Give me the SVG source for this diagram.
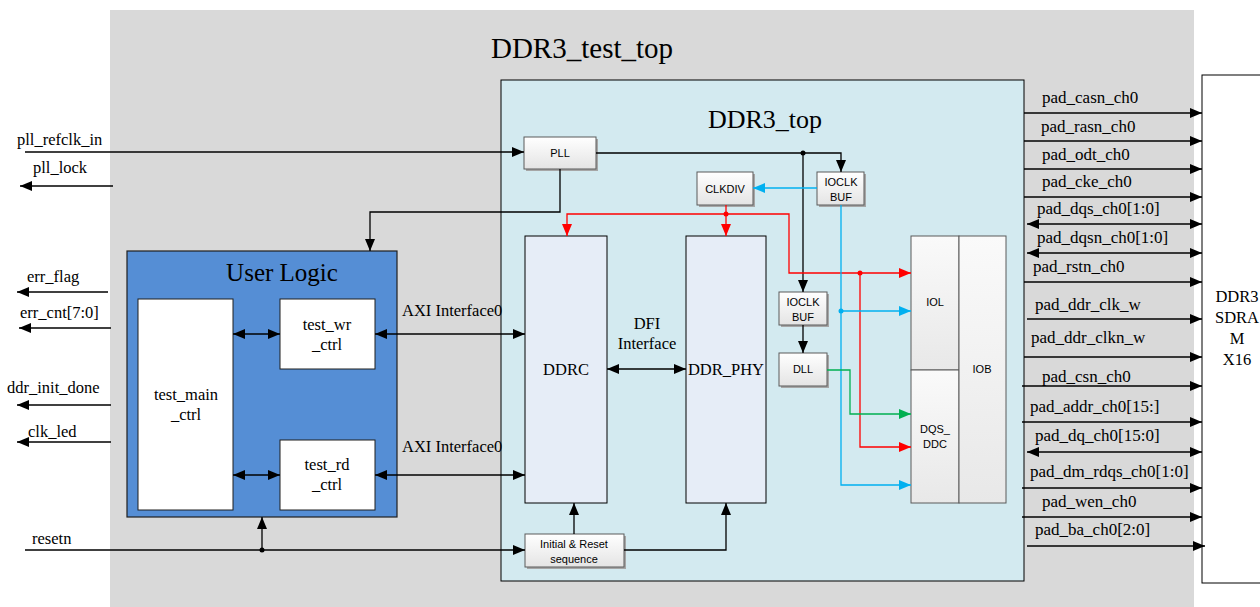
<svg xmlns="http://www.w3.org/2000/svg" width="1260" height="607" viewBox="0 0 1260 607">
<style>
.serif{font-family:"Liberation Serif","Times New Roman",serif;fill:#000}
.sans{font-family:"Liberation Sans",Arial,sans-serif;fill:#000;font-size:11px;text-anchor:middle}
.pad{font-size:17px}
.sig{font-size:16.5px}
.ln{fill:none;stroke:#000;stroke-width:1.3}
.red{fill:none;stroke:#ff0000;stroke-width:1.3}
.blue{fill:none;stroke:#00b0f0;stroke-width:1.3}
.green{fill:none;stroke:#00b050;stroke-width:1.3}
.box{fill:url(#gbox);stroke:#5a5a5a;stroke-width:1}
.shadow{fill:#a6a6a6}
.mid{text-anchor:middle}
</style>
<defs>
<linearGradient id="gbox" x1="0" y1="0" x2="0" y2="1">
<stop offset="0" stop-color="#ffffff"/><stop offset="1" stop-color="#e4e4e4"/>
</linearGradient>
<linearGradient id="gio" x1="0" y1="0" x2="0" y2="1">
<stop offset="0" stop-color="#fafafa"/><stop offset="1" stop-color="#e8e8e8"/>
</linearGradient>
<marker id="a" markerUnits="userSpaceOnUse" markerWidth="12" markerHeight="10" refX="12" refY="5" orient="auto-start-reverse" viewBox="0 0 12 10"><path d="M0,0 L12,5 L0,10 z" fill="#000"/></marker>
<marker id="ar" markerUnits="userSpaceOnUse" markerWidth="12" markerHeight="10" refX="12" refY="5" orient="auto-start-reverse" viewBox="0 0 12 10"><path d="M0,0 L12,5 L0,10 z" fill="#ff0000"/></marker>
<marker id="ab" markerUnits="userSpaceOnUse" markerWidth="12" markerHeight="10" refX="12" refY="5" orient="auto-start-reverse" viewBox="0 0 12 10"><path d="M0,0 L12,5 L0,10 z" fill="#00b0f0"/></marker>
<marker id="ag" markerUnits="userSpaceOnUse" markerWidth="12" markerHeight="10" refX="12" refY="5" orient="auto-start-reverse" viewBox="0 0 12 10"><path d="M0,0 L12,5 L0,10 z" fill="#00b050"/></marker>
</defs>
<rect width="1260" height="607" fill="#ffffff"/>
<g id="DDR3_test_top">
<rect x="110" y="10" width="1084" height="600" fill="#d9d9d9"/>
<text class="serif mid" x="582" y="58" font-size="29">DDR3_test_top</text>
</g>
<g id="DDR3_top">
<rect x="501" y="80" width="523" height="501" fill="#d3eaf0" stroke="#000" stroke-width="1"/>
<text class="serif mid" x="765" y="128" font-size="26">DDR3_top</text>
</g>
<g id="SDRAM">
<rect x="1202" y="75" width="70" height="508" fill="#ffffff" stroke="#000" stroke-width="1"/>
<text class="serif mid sig" x="1237" y="302">DDR3</text>
<text class="serif mid sig" x="1237" y="323">SDRA</text>
<text class="serif mid sig" x="1237" y="344">M</text>
<text class="serif mid sig" x="1237" y="365">X16</text>
</g>
<g id="UserLogic">
<rect x="127" y="251" width="270" height="266" fill="#558ed5" stroke="#1f1f1f" stroke-width="1.2"/>
<text class="serif mid" x="282" y="281" font-size="25">User Logic</text>
</g>
<g id="test_main_ctrl">
<rect x="138" y="299" width="95" height="211" fill="#fff" stroke="#1f1f1f" stroke-width="1"/>
<text class="serif mid sig" x="186" y="400">test_main</text>
<text class="serif mid sig" x="186" y="420">_ctrl</text>
</g>
<g id="test_wr_ctrl">
<rect x="280" y="299" width="95" height="70" fill="#fff" stroke="#1f1f1f" stroke-width="1"/>
<text class="serif mid sig" x="327" y="330">test_wr</text>
<text class="serif mid sig" x="327" y="350">_ctrl</text>
</g>
<g id="test_rd_ctrl">
<rect x="280" y="440" width="95" height="70" fill="#fff" stroke="#1f1f1f" stroke-width="1"/>
<text class="serif mid sig" x="327" y="470">test_rd</text>
<text class="serif mid sig" x="327" y="490">_ctrl</text>
</g>
<g id="DDRC">
<rect x="525" y="236" width="82" height="267" fill="#e6edf7" stroke="#000" stroke-width="1"/>
<text class="serif mid sig" x="566" y="375">DDRC</text>
</g>
<g id="DDR_PHY">
<rect x="686" y="236" width="80" height="267" fill="#e6edf7" stroke="#000" stroke-width="1"/>
<text class="serif mid sig" x="726" y="375">DDR_PHY</text>
</g>
<g id="PLL">
<rect class="shadow" x="526" y="139" width="72" height="32"/>
<rect class="box" x="524" y="137" width="72" height="32"/>
<text class="sans" x="560" y="157">PLL</text>
</g>
<g id="CLKDIV">
<rect class="shadow" x="699" y="174" width="56" height="33"/>
<rect class="box" x="697" y="172" width="56" height="33"/>
<text class="sans" x="725" y="193">CLKDIV</text>
</g>
<g id="IOCLK_BUF_1">
<rect class="shadow" x="819" y="174" width="47" height="33"/>
<rect class="box" x="817" y="172" width="47" height="33"/>
<text class="sans" x="841" y="186">IOCLK</text>
<text class="sans" x="841" y="201">BUF</text>
</g>
<g id="IOCLK_BUF_2">
<rect class="shadow" x="781" y="294" width="48" height="33"/>
<rect class="box" x="779" y="292" width="48" height="33"/>
<text class="sans" x="803" y="306">IOCLK</text>
<text class="sans" x="803" y="321">BUF</text>
</g>
<g id="DLL">
<rect class="shadow" x="781" y="355" width="48" height="33"/>
<rect class="box" x="779" y="353" width="48" height="33"/>
<text class="sans" x="803" y="373">DLL</text>
</g>
<g id="IOL">
<rect x="911" y="236" width="48" height="134" fill="url(#gio)" stroke="#5a5a5a" stroke-width="1"/>
<text class="sans" x="935" y="306" font-size="11.5">IOL</text>
</g>
<g id="DQS_DDC">
<rect x="911" y="370" width="48" height="133" fill="url(#gio)" stroke="#5a5a5a" stroke-width="1"/>
<text class="sans" x="935" y="433" font-size="11.5">DQS_</text>
<text class="sans" x="935" y="448" font-size="11.5">DDC</text>
</g>
<g id="IOB">
<rect x="959" y="236" width="47" height="267" fill="url(#gio)" stroke="#5a5a5a" stroke-width="1"/>
<text class="sans" x="982" y="373" font-size="11.5">IOB</text>
</g>
<g id="InitReset">
<rect class="shadow" x="527" y="536" width="99" height="33"/>
<rect class="box" x="525" y="534" width="99" height="33"/>
<text class="sans" x="574" y="548" font-size="12">Initial &amp; Reset</text>
<text class="sans" x="574" y="563" font-size="12">sequence</text>
</g>
<g id="labels">
<text class="serif sig" x="17" y="145">pll_refclk_in</text>
<text class="serif sig" x="33" y="173">pll_lock</text>
<text class="serif sig" x="27" y="282">err_flag</text>
<text class="serif sig" x="20" y="318">err_cnt[7:0]</text>
<text class="serif sig" x="7" y="393">ddr_init_done</text>
<text class="serif sig" x="28" y="437">clk_led</text>
<text class="serif sig" x="32" y="544">resetn</text>
<text class="serif sig" x="402" y="316">AXI Interface0</text>
<text class="serif sig" x="402" y="452">AXI Interface0</text>
<text class="serif mid sig" x="647" y="329">DFI</text>
<text class="serif mid sig" x="647" y="349">Interface</text>
<text class="serif pad" x="1042" y="103">pad_casn_ch0</text>
<text class="serif pad" x="1041" y="132">pad_rasn_ch0</text>
<text class="serif pad" x="1042" y="160">pad_odt_ch0</text>
<text class="serif pad" x="1042" y="187">pad_cke_ch0</text>
<text class="serif pad" x="1037" y="214">pad_dqs_ch0[1:0]</text>
<text class="serif pad" x="1037" y="243">pad_dqsn_ch0[1:0]</text>
<text class="serif pad" x="1033" y="272">pad_rstn_ch0</text>
<text class="serif pad" x="1035" y="310">pad_ddr_clk_w</text>
<text class="serif pad" x="1031" y="343">pad_ddr_clkn_w</text>
<text class="serif pad" x="1042" y="382">pad_csn_ch0</text>
<text class="serif pad" x="1030" y="412">pad_addr_ch0[15:]</text>
<text class="serif pad" x="1035" y="441">pad_dq_ch0[15:0]</text>
<text class="serif pad" x="1030" y="477">pad_dm_rdqs_ch0[1:0]</text>
<text class="serif pad" x="1042" y="507">pad_wen_ch0</text>
<text class="serif pad" x="1035" y="535">pad_ba_ch0[2:0]</text>
</g>
<g id="connectors">
<path class="ln" d="M25,152 H524" marker-end="url(#a)"/>
<path class="ln" d="M113,186 H20" marker-end="url(#a)"/>
<path class="ln" d="M108,292 H17" marker-end="url(#a)"/>
<path class="ln" d="M111,328 H19" marker-end="url(#a)"/>
<path class="ln" d="M111,405 H17" marker-end="url(#a)"/>
<path class="ln" d="M111,442 H17" marker-end="url(#a)"/>
<path class="ln" d="M25,550 H525" marker-end="url(#a)"/>
<path class="ln" d="M262,550 V517" marker-end="url(#a)"/>
<circle cx="262" cy="550" r="2.5" fill="#000"/>
<path class="ln" d="M560,169 V212 H370 V251" marker-end="url(#a)"/>
<path class="ln" d="M596,153 H841 V172" marker-end="url(#a)"/>
<path class="ln" d="M803,153 V292" marker-end="url(#a)"/>
<circle cx="803" cy="153" r="2.5" fill="#000"/>
<path class="ln" d="M803,325 V353" marker-end="url(#a)"/>
<path class="ln" d="M233,334 H280" marker-start="url(#a)" marker-end="url(#a)"/>
<path class="ln" d="M233,475 H280" marker-start="url(#a)" marker-end="url(#a)"/>
<path class="ln" d="M375,334 H525" marker-start="url(#a)" marker-end="url(#a)"/>
<path class="ln" d="M375,475 H525" marker-start="url(#a)" marker-end="url(#a)"/>
<path class="ln" d="M607,369 H686" marker-start="url(#a)" marker-end="url(#a)"/>
<path class="ln" d="M574,534 V503" marker-end="url(#a)"/>
<path class="ln" d="M624,550 H726 V503" marker-end="url(#a)"/>
<path class="red" d="M726,205 V236" marker-end="url(#ar)"/>
<path class="red" d="M726,214 H567 V236" marker-end="url(#ar)"/>
<path class="red" d="M726,214 H789 V273 H911" marker-end="url(#ar)"/>
<path class="red" d="M860,273 V447 H911" marker-end="url(#ar)"/>
<circle cx="726" cy="214" r="2.5" fill="#ff0000"/>
<circle cx="860" cy="273" r="2.5" fill="#ff0000"/>
<path class="blue" d="M817,188 H753" marker-end="url(#ab)"/>
<path class="blue" d="M841,205 V485 H911" marker-end="url(#ab)"/>
<path class="blue" d="M841,311 H911" marker-end="url(#ab)"/>
<circle cx="841" cy="311" r="2.5" fill="#00b0f0"/>
<path class="green" d="M827,370 H850 V414 H911" marker-end="url(#ag)"/>
<path class="ln" d="M1024,113 H1202" marker-end="url(#a)"/>
<path class="ln" d="M1024,141 H1202" marker-end="url(#a)"/>
<path class="ln" d="M1024,169 H1202" marker-end="url(#a)"/>
<path class="ln" d="M1024,197 H1202" marker-end="url(#a)"/>
<path class="ln" d="M1027,224 H1202" marker-start="url(#a)" marker-end="url(#a)"/>
<path class="ln" d="M1027,253 H1202" marker-start="url(#a)" marker-end="url(#a)"/>
<path class="ln" d="M1024,282 H1202" marker-end="url(#a)"/>
<path class="ln" d="M1027,319 H1202" marker-end="url(#a)"/>
<path class="ln" d="M1024,357 H1202" marker-end="url(#a)"/>
<path class="ln" d="M1022,386 H1202" marker-end="url(#a)"/>
<path class="ln" d="M1022,422 H1202" marker-end="url(#a)"/>
<path class="ln" d="M1027,452 H1202" marker-start="url(#a)" marker-end="url(#a)"/>
<path class="ln" d="M1022,488 H1202" marker-end="url(#a)"/>
<path class="ln" d="M1022,517 H1202" marker-end="url(#a)"/>
<path class="ln" d="M1027,546 H1205" marker-end="url(#a)"/>
</g>
</svg>
